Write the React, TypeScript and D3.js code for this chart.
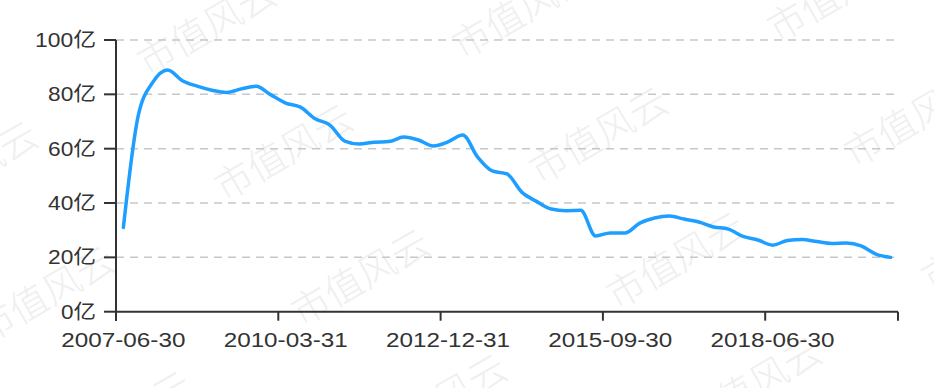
import React from "react";
import * as d3 from "d3";

const dates: string[] = [
  "2007-06-30","2007-09-30","2007-12-31",
  "2008-03-31","2008-06-30","2008-09-30","2008-12-31",
  "2009-03-31","2009-06-30","2009-09-30","2009-12-31",
  "2010-03-31","2010-06-30","2010-09-30","2010-12-31",
  "2011-03-31","2011-06-30","2011-09-30","2011-12-31",
  "2012-03-31","2012-06-30","2012-09-30","2012-12-31",
  "2013-03-31","2013-06-30","2013-09-30","2013-12-31",
  "2014-03-31","2014-06-30","2014-09-30","2014-12-31",
  "2015-03-31","2015-06-30","2015-09-30","2015-12-31",
  "2016-03-31","2016-06-30","2016-09-30","2016-12-31",
  "2017-03-31","2017-06-30","2017-09-30","2017-12-31",
  "2018-03-31","2018-06-30","2018-09-30","2018-12-31",
  "2019-03-31","2019-06-30","2019-09-30","2019-12-31",
  "2020-03-31","2020-06-30",
];

// market value, 亿
const values: number[] = [
  31, 72, 84.5, 89, 85, 83, 81.5, 80.7, 82, 83,
  79.8, 76.8, 75.3, 71, 68.7, 62.8, 61.7, 62.4, 62.6, 64.3,
  63.2, 61, 62.5, 65, 57, 51.8, 50.7, 44, 40.6, 37.8,
  37.2, 37.3, 27.9, 29, 29, 32.6, 34.5, 35.2, 34.1, 33,
  31.2, 30.4, 27.7, 26.4, 24.5, 26.2, 26.6, 25.8, 25.1, 25.3,
  24.2, 21.2, 20,
];

const yTicks: number[] = [0, 20, 40, 60, 80, 100];
const labelInterval = 11;
const watermark = "市值风云";

export default function App() {
  const W = 934;
  const H = 388;
  const x = d3.scaleBand<string>().domain(dates).range([116, 898]).paddingInner(0).paddingOuter(0);
  const y = d3.scaleLinear().domain([0, 100]).range([311.7, 40]);
  const cx = (d: string) => (x(d) as number) + x.bandwidth() / 2;

  const line = d3
    .line<number>()
    .x((_, i) => cx(dates[i]))
    .y((v) => y(v))
    .curve(d3.curveMonotoneX);

  const tickIdx = dates.map((_, i) => i).filter((i) => i % labelInterval === 0);

  // watermark lattice
  const marks: { x: number; y: number }[] = [];
  for (let a = -3; a <= 3; a++) {
    for (let b = -3; b <= 3; b++) {
      const px = 282 + a * 315 + b * 77;
      const py = 150 - a * 17 + b * 125;
      if (px > -150 && px < W + 150 && py > -100 && py < H + 100) marks.push({ x: px, y: py });
    }
  }

  const axisColor = "#333";
  const font = "'Liberation Sans', 'Noto Sans CJK SC', sans-serif";

  return (
    <svg
      width={W}
      height={H}
      style={{ position: "absolute", left: 0, top: 0, background: "#fff" }}
    >
      <g>
        {marks.map((m, i) => (
          <text
            key={i}
            x={m.x}
            y={m.y}
            transform={`rotate(-30 ${m.x} ${m.y})`}
            textAnchor="middle"
            dominantBaseline="central"
            fontSize={38}
            fontFamily="'Noto Sans CJK SC', sans-serif"
            fontWeight={300}
            fill="#efefef"
          >
            {watermark}
          </text>
        ))}
      </g>
      {/* grid */}
      {yTicks.filter((t) => t > 0).map((t) => (
        <line
          key={t}
          x1={116}
          x2={898}
          y1={y(t)}
          y2={y(t)}
          stroke="#c8c8c8"
          strokeWidth={1.5}
          strokeDasharray="8 6"
        />
      ))}
      {/* y axis */}
      <line x1={116} x2={116} y1={40} y2={321} stroke={axisColor} strokeWidth={2} />
      {yTicks.map((t) => (
        <g key={t}>
          <line x1={104} x2={116} y1={y(t)} y2={y(t)} stroke={axisColor} strokeWidth={2} />
          <text
            x={96}
            y={y(t)}
            textAnchor="end"
            dominantBaseline="central"
            fontSize={20}
            fontFamily={font}
            fill="#333"
            textLength={String(t).length * 13 + 22}
            lengthAdjust="spacingAndGlyphs"
          >
            {t}亿
          </text>
        </g>
      ))}
      {/* x axis */}
      <line x1={116} x2={898} y1={y(0)} y2={y(0)} stroke={axisColor} strokeWidth={2} />
      {tickIdx.map((i) => (
        <line
          key={i}
          x1={x(dates[i]) as number}
          x2={x(dates[i]) as number}
          y1={y(0)}
          y2={y(0) + 9}
          stroke={axisColor}
          strokeWidth={2}
        />
      ))}
      <line x1={898} x2={898} y1={y(0)} y2={y(0) + 9} stroke={axisColor} strokeWidth={2} />
      {tickIdx.map((i) => (
        <text
          key={"l" + i}
          x={cx(dates[i])}
          y={347}
          textAnchor="middle"
          fontSize={20}
          fontFamily={font}
          fill="#333"
          textLength={124}
          lengthAdjust="spacingAndGlyphs"
        >
          {dates[i]}
        </text>
      ))}
      {/* series */}
      <path d={line(values) || ""} fill="none" stroke="#1e9fff" strokeWidth={3.5} strokeLinejoin="round" strokeLinecap="round" />
    </svg>
  );
}
